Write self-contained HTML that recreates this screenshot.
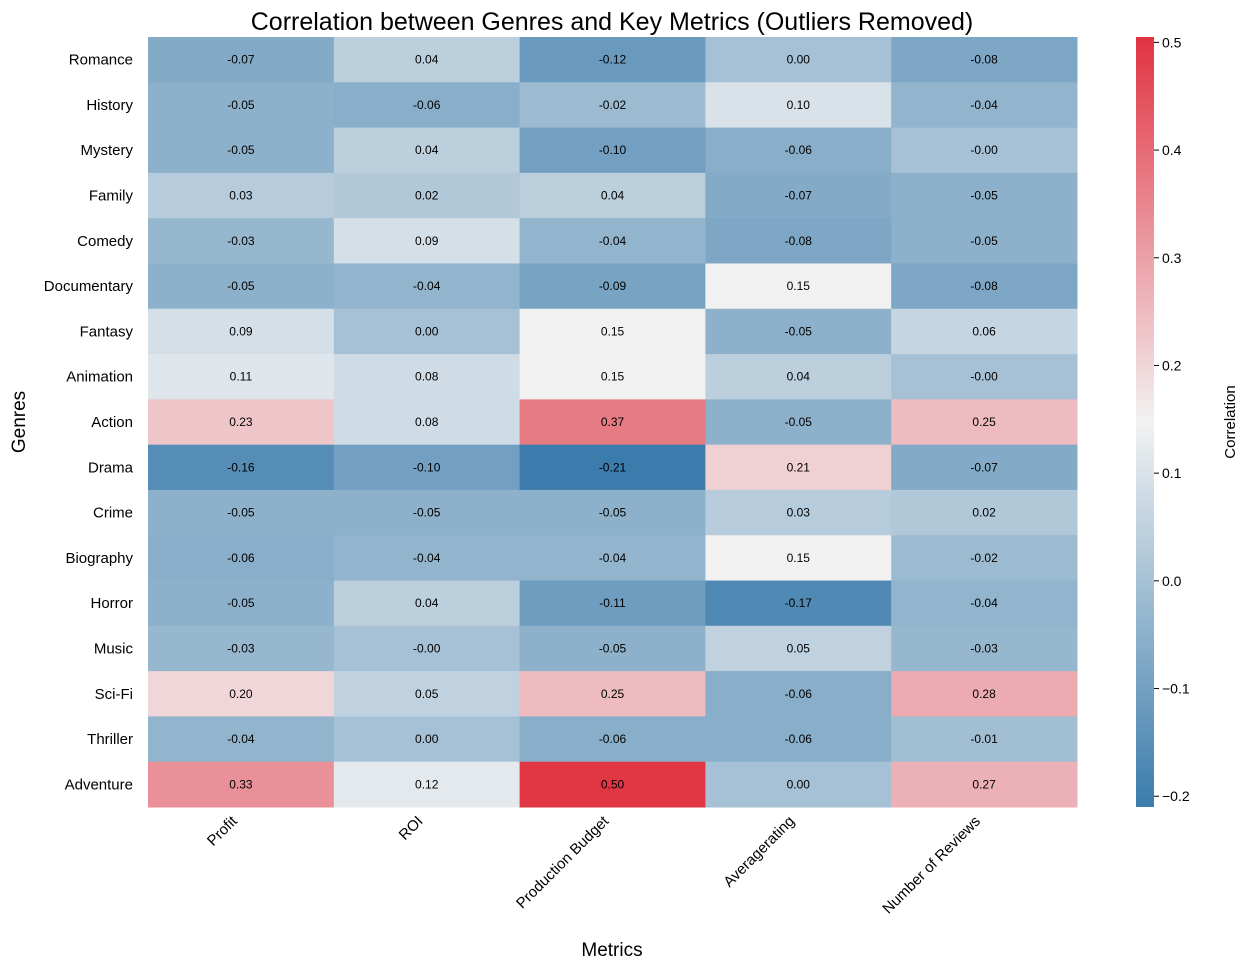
<!DOCTYPE html>
<html><head><meta charset="utf-8"><style>
body{margin:0;background:#fff;}
svg text{font-family:"Liberation Sans",Arial,sans-serif;}
</style></head><body>
<svg id="chart" width="1247" height="969">
<text x="612" y="30" font-size="25" text-anchor="middle">Correlation between Genres and Key Metrics (Outliers Removed)</text>
<g id="cells"></g>
<g id="ylabels"></g>
<g id="xlabels"></g>
<text x="612" y="956" font-size="19" text-anchor="middle">Metrics</text>
<text transform="translate(25,422) rotate(-90)" font-size="19" text-anchor="middle">Genres</text>
<defs><linearGradient id="cbg" x1="0" y1="1" x2="0" y2="0">
<stop offset="0" stop-color="#3b7cac"/><stop offset="0.5" stop-color="#f2f2f2"/><stop offset="1" stop-color="#e13342"/></linearGradient></defs>
<rect x="1136" y="37" width="18" height="770" fill="url(#cbg)"/>
<g id="cbticks"></g>
<text transform="translate(1235,422) rotate(-90)" font-size="15" text-anchor="middle">Correlation</text>
</svg>
<script>
const genres=["Romance","History","Mystery","Family","Comedy","Documentary","Fantasy","Animation","Action","Drama","Crime","Biography","Horror","Music","Sci-Fi","Thriller","Adventure"];
const metrics=["Profit","ROI","Production Budget","Averagerating","Number of Reviews"];
const profit=[-0.07,-0.05,-0.05,0.03,-0.03,-0.05,0.09,0.11,0.23,-0.16,-0.05,-0.06,-0.05,-0.03,0.20,-0.04,0.33];
const roi=[0.04,-0.06,0.04,0.02,0.09,-0.04,0.00,0.08,0.08,-0.10,-0.05,-0.04,0.04,-0.00,0.05,0.00,0.12];
const budget=[-0.12,-0.02,-0.10,0.04,-0.04,-0.09,0.15,0.15,0.37,-0.21,-0.05,-0.04,-0.11,-0.05,0.25,-0.06,0.50];
const rating=[0.00,0.10,-0.06,-0.07,-0.08,0.15,-0.05,0.04,-0.05,0.21,0.03,0.15,-0.17,0.05,-0.06,-0.06,0.00];
const reviews=[-0.08,-0.04,-0.00,-0.05,-0.05,-0.08,0.06,-0.00,0.25,-0.07,0.02,-0.02,-0.04,-0.03,0.28,-0.01,0.27];
const cbTicks=[-0.2,-0.1,0.0,0.1,0.2,0.3,0.4,0.5];
const series=[profit,roi,budget,rating,reviews];
const vmin=-0.21,vmax=0.505;
const X0=148,X1=1077,Y0=37,Y1=807;
const cw=(X1-X0)/metrics.length, rh=(Y1-Y0)/genres.length;
const xPos=i=>X0+i*cw, yPos=j=>Y0+j*rh;
const cbY=v=>Y1-(v-vmin)/(vmax-vmin)*(Y1-Y0);
const lo=[59,124,172],mid=[242,242,242],hi=[225,51,66];
function color(v){let t=(v-vmin)/(vmax-vmin);t=Math.max(0,Math.min(1,t));let a,b,u;
 if(t<0.5){a=lo;b=mid;u=t/0.5}else{a=mid;b=hi;u=(t-0.5)/0.5}
 return `rgb(${a.map((c,k)=>Math.round(c+(b[k]-c)*u)).join(',')})`;}
const NS="http://www.w3.org/2000/svg";
function mk(tag,attrs,parent,txt){const e=document.createElementNS(NS,tag);for(const k in attrs)e.setAttribute(k,attrs[k]);if(txt!==undefined)e.textContent=txt;parent.appendChild(e);return e;}
const cells=document.getElementById('cells');
series.forEach((s,i)=>s.forEach((v,j)=>{
 const r=mk('rect',{x:xPos(i),y:yPos(j),width:cw+0.5,height:rh+0.5,fill:color(v)},cells);
 
 
 const t=mk('text',{x:xPos(i)+cw/2,y:yPos(j)+rh/2+4,'font-size':12,'text-anchor':'middle'},cells,(v<0||Object.is(v,-0)?'-':'')+Math.abs(v).toFixed(2));
 
 
}));
const yl=document.getElementById('ylabels');
genres.forEach((g,j)=>{
 const t=mk('text',{x:133,y:yPos(j)+rh/2+5,'font-size':15,'text-anchor':'end'},yl,g);
 
 
});
const xl=document.getElementById('xlabels');
metrics.forEach((m,i)=>{
 const cx=xPos(i)+cw/2-3, cy=822;
 const t=mk('text',{transform:`translate(${cx},${cy}) rotate(-45)`,'font-size':15,'text-anchor':'end'},xl,m);
 
 
});
const cb=document.getElementById('cbticks');
cbTicks.forEach(v=>{
 const y=cbY(v);
 const l=mk('line',{x1:1154,x2:1159,y1:y,y2:y,stroke:'#000'},cb);
 
 
 const t=mk('text',{x:1162,y:y+5,'font-size':14},cb,(v<0?'−':'')+Math.abs(v).toFixed(1));
 
 
});
</script>
</body></html>
